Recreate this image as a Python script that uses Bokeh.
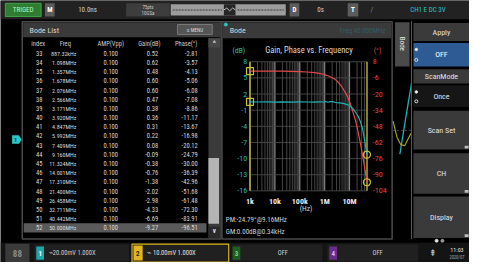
import math
from bokeh.plotting import figure
from bokeh.models import Range1d, LogScale, ColumnDataSource
from bokeh.core.properties import value
from bokeh.embed import file_html
from bokeh.resources import INLINE

# ---------------- data ----------------
row_index = list(range(33, 53))
row_freq_hz = [887.32e3, 1.098e6, 1.357e6, 1.678e6, 2.076e6, 2.566e6, 3.171e6, 3.920e6,
               4.847e6, 5.992e6, 7.409e6, 9.160e6, 11.324e6, 14.001e6, 17.310e6,
               21.400e6, 26.458e6, 32.711e6, 40.442e6, 50.000e6]
row_freq_label = ["887.32kHz", "1.098MHz", "1.357MHz", "1.678MHz", "2.076MHz", "2.566MHz",
                  "3.171MHz", "3.920MHz", "4.847MHz", "5.992MHz", "7.409MHz", "9.160MHz",
                  "11.324MHz", "14.001MHz", "17.310MHz", "21.400MHz", "26.458MHz",
                  "32.711MHz", "40.442MHz", "50.000MHz"]
row_amp = ["0.100"] * 20
row_gain = [0.52, 0.62, 0.48, 0.60, 0.60, 0.47, 0.38, 0.36, 0.31, 0.22, 0.08, -0.09,
            -0.38, -0.76, -1.38, -2.02, -2.98, -4.33, -6.69, -9.27]
row_phase = [-2.81, -3.57, -4.13, -5.06, -6.08, -7.08, -8.86, -11.17, -13.67, -16.98,
             -20.12, -24.79, -30.00, -36.39, -42.96, -51.68, -61.48, -72.30, -83.91, -96.51]

# low-frequency part of the curves
low_freq_hz = [1e3, 2e3, 5e3, 1e4, 2e4, 5e4, 1e5, 2e5, 4e5, 6e5]
low_gain = [0.55, 0.52, 0.56, 0.50, 0.54, 0.50, 0.55, 0.52, 0.50, 0.55]
low_phase = [-0.2, -0.1, 0.0, -0.2, -0.1, -0.3, -0.5, -0.9, -1.5, -2.1]

db_ticks = [8, 5, 2, -1, -4, -7, -10, -13, -16]
deg_ticks = [8, -6, -20, -34, -48, -62, -76, -90, -104]
freq_ticks = [1e3, 1e4, 1e5, 1e6, 1e7]
freq_tick_labels = ["1k", "10k", "100k", "1M", "10M"]
f_min, f_max = 1e3, 50e6

# ---------------- figure ----------------
W, H = 485, 278
p = figure(width=469, height=262, x_range=Range1d(0, W), y_range=Range1d(H, 0),
           output_backend="svg", toolbar_location=None, min_border=0,
           x_axis_location=None, y_axis_location=None,
           background_fill_color="#000000", border_fill_color="#000000",
           outline_line_color=None)
p.grid.visible = False

# plot-area geometry (screen layout)
PX_L, PX_R = 258.0, 379.0
PY_T, PY_B = 65.0, 202.0
la, lb = math.log10(f_min), math.log10(f_max)
sx = (lb - la) / (PX_R - PX_L)
p.extra_x_scales = {"freq": LogScale()}
p.extra_x_ranges = {"freq": Range1d(10 ** (la - PX_L * sx), 10 ** (la + (W - PX_L) * sx))}
d_top, d_bot = db_ticks[0], db_ticks[-1]
sdb = (d_top - d_bot) / (PY_B - PY_T)
g_top, g_bot = deg_ticks[0], deg_ticks[-1]
sdg = (g_top - g_bot) / (PY_B - PY_T)
p.extra_y_ranges = {
    "db": Range1d(d_top - (H - PY_T) * sdb, d_top + PY_T * sdb),
    "deg": Range1d(g_top - (H - PY_T) * sdg, g_top + PY_T * sdg),
}

FONT = value("Liberation Sans Narrow, Roboto Condensed, Liberation Sans")


def box(l, r, t, b, fill, line=None, lw=1.0, alpha=1.0):
    p.quad(left=[l], right=[r], top=[t], bottom=[b], fill_color=fill,
           fill_alpha=alpha, line_color=line, line_width=lw)


def txt(x, y, s, color, size=7, align="left", style="normal", angle=0.0, **kw):
    p.text(x=[x], y=[y], text=[s], text_color=color, text_font=FONT,
           text_font_size=f"{size}px", text_align=align, text_baseline="middle",
           text_font_style=style, angle=angle, **kw)


# ---------------- top bar ----------------
box(0, W, 0, 20, "#222222")
box(5, 42, 3, 17, "#2e7d32", "#43a047")
txt(23.5, 10.5, "TRIGED", "#b9f2b9", 7, "center")
box(46, 56, 3, 17, "#5c5c5c")
txt(51, 10.5, "M", "#ffffff", 7, "center", "bold")
txt(90, 10.5, "10.0ns", "#d0d0d0", 7, "center")
box(130, 175, 3, 17, "#3d3d3d")
txt(152.5, 7, "75pts", "#c8c8c8", 5, "center")
txt(152.5, 13.5, "10GSa", "#c8c8c8", 5, "center")
box(176, 295, 4, 16, "#9c9c9c")
box(231, 243, 4, 16, "#262626")
p.line(x=[178, 229], y=[10, 10], line_color="#6a6a6a", line_width=2, line_dash="2 1")
p.line(x=[245, 293], y=[10, 10], line_color="#6a6a6a", line_width=2, line_dash="2 1")
p.line(x=[231, 234, 237, 240, 243], y=[10, 8, 11, 8, 10], line_color="#bdbdbd", line_width=1)
box(299, 309, 3, 17, "#5c5c5c")
txt(304, 10.5, "D", "#ffffff", 7, "center", "bold")
txt(331, 10.5, "0s", "#d0d0d0", 7, "center")
box(359, 370, 3, 17, "#5c5c5c")
txt(364.5, 10.5, "T", "#ffffff", 7, "center", "bold")
txt(384, 10.5, "/", "#8a8a8a", 7, "center")
txt(442, 10.5, "CH1 E DC 3V", "#2cc6c6", 7, "center")

# ---------------- left marker ----------------
p.patch(x=[12, 19, 22, 19, 12], y=[143, 143, 147.5, 152, 152], fill_color="#2cc6c6",
        line_color=None)
txt(15.5, 147.5, "1", "#003a3a", 6, "center", "bold")

# ---------------- Bode List panel ----------------
box(22.5, 228, 22.5, 253, "#000000", "#4a4a4a", 1.5)
box(23.5, 227, 23.5, 39, "#3a3a3a")
txt(30, 31.5, "Bode List", "#d6d6d6", 8)
box(183, 219, 25.5, 36, "#555555", "#7a7a7a")
txt(201, 31, "≡ MENU", "#dddddd", 5, "center")

hy = 46
txt(39, hy, "index", "#c8c8c8", 6.5, "center")
txt(67, hy, "Freq", "#c8c8c8", 6.5, "center")
txt(114, hy, "AMP(Vpp)", "#c8c8c8", 6.5, "center")
txt(154, hy, "Gain(dB)", "#c8c8c8", 6.5, "center")
txt(192, hy, "Phase(°)", "#c8c8c8", 6.5, "center")

row_y = [56 + i * 9.75 for i in range(len(row_index))]
box(24, 213, row_y[-1] - 5, row_y[-1] + 5, "#5a5a5a")
tab = ColumnDataSource(dict(
    y=row_y,
    idx=[str(v) for v in row_index],
    freq=row_freq_label,
    amp=row_amp,
    gain=[f"{v:.2f}" for v in row_gain],
    phase=[f"{v:.2f}" for v in row_phase],
))
for col, xx, al, fs in [("idx", 40, "center", 6.5), ("freq", 78.5, "right", 6.0),
                        ("amp", 114, "center", 6.5), ("gain", 163, "right", 6.5),
                        ("phase", 204, "right", 6.5)]:
    p.text(x=xx, y="y", text=col, source=tab, text_color="#d8d8d8", text_font=FONT,
           text_font_size=f"{fs}px", text_align=al, text_baseline="middle")

# scrollbar
box(215, 227, 40, 252, "#3a3a3a")
box(215, 227, 40, 50, "#484848")
txt(221, 46, "^", "#e0e0e0", 8, "center", "bold")
box(215, 226, 167, 237, "#b4b4b4")
box(215, 227, 240, 252, "#2a2a2a")
txt(221, 245, "v", "#e0e0e0", 7, "center", "bold")

# ---------------- Bode panel ----------------
box(229, 405, 22.5, 253, "#000000", "#4a4a4a", 1.5)
box(230, 404, 23.5, 40, "#3a3a3a")
p.scatter(x=[233], y=[25.5], size=3, color="#2cc6c6")
txt(237, 32, "Bode", "#d6d6d6", 8)
txt(398, 32, "Freq 40.000MHz", "#2d5f63", 7, "right")

txt(240, 53, "(dB)", "#2cc6c6", 7.5, "left")
txt(319, 53, "Gain, Phase vs. Frequency", "#d8d8d8", 8.5, "center")
txt(386, 53, "(°)", "#e04848", 7.5, "left")

# grid: vertical log lines
minor = [k * 10 ** n for n in range(3, 8) for k in range(1, 10) if k * 10 ** n <= f_max]
p.segment(x0=minor, x1=minor, y0=[d_top] * len(minor), y1=[d_bot] * len(minor),
          x_range_name="freq", y_range_name="db", line_color="#666666", line_width=0.8,
          line_alpha=0.85)
p.segment(x0=freq_ticks, x1=freq_ticks, y0=[d_top] * 5, y1=[d_bot] * 5,
          x_range_name="freq", y_range_name="db", line_color="#959595", line_width=0.9)
# horizontal grid
p.segment(x0=[f_min] * len(db_ticks), x1=[f_max] * len(db_ticks), y0=db_ticks, y1=db_ticks,
          x_range_name="freq", y_range_name="db", line_color="#4a4a4a", line_width=0.9)

# axis tick labels
p.text(x=[255] * len(db_ticks), y=db_ticks, text=[str(v) for v in db_ticks],
       y_range_name="db", text_color="#2cb8bc", text_font=FONT, text_font_size="8px",
       text_align="right", text_baseline="middle")
p.text(x=[385] * len(deg_ticks), y=deg_ticks, text=[str(v) for v in deg_ticks],
       y_range_name="deg", text_color="#e04848", text_font=FONT, text_font_size="8px",
       text_align="left", text_baseline="middle")
p.text(x=freq_ticks, y=[213] * 5, text=freq_tick_labels, x_range_name="freq",
       text_color="#ececec", text_font=FONT, text_font_size="8px", text_align="center",
       text_baseline="middle", text_font_style="bold")
txt(316, 221, "(Hz)", "#d8d8d8", 7.5, "center")

# cursor lines
p.segment(x0=[f_min, f_max], x1=[f_min, f_max], y0=[d_top, d_top], y1=[d_bot, d_bot],
          x_range_name="freq", y_range_name="db", line_color="#c8c02a", line_width=1.2)

# curves
all_f = low_freq_hz + row_freq_hz
p.line(x=all_f, y=low_phase + row_phase, x_range_name="freq", y_range_name="deg",
       line_color="#e04a4a", line_width=1.2)
p.line(x=all_f, y=low_gain + row_gain, x_range_name="freq", y_range_name="db",
       line_color="#1fb0b4", line_width=1.2)

# cursor markers
p.scatter(x=[f_min], y=[low_gain[0]], x_range_name="freq", y_range_name="db", marker="square",
          size=7, fill_color=None, line_color="#c8c02a", line_width=1.2)
p.scatter(x=[f_min], y=[low_phase[0]], x_range_name="freq", y_range_name="deg",
          marker="square", size=7, fill_color=None, line_color="#c8c02a", line_width=1.2)
p.scatter(x=[f_max], y=[row_gain[-1]], x_range_name="freq", y_range_name="db",
          marker="circle", size=7, fill_color=None, line_color="#c8c02a", line_width=1.2)
p.scatter(x=[f_max], y=[row_phase[-1]], x_range_name="freq", y_range_name="deg",
          marker="circle", size=7, fill_color=None, line_color="#c8c02a", line_width=1.2)

pm_i = row_gain.index(-0.09)
txt(233, 233, f"PM:{row_phase[pm_i]:.2f}°@{row_freq_hz[pm_i] / 1e6:.2f}MHz", "#d0d0d0", 7)
txt(233, 246, "GM:0.00dB@0.34kHz", "#d0d0d0", 7)

# ---------------- background scope traces (right strip) ----------------
p.line(x=[406, 425], y=[138, 138], line_color="#555555", line_width=0.8, line_dash="2 2")
p.line(x=[413, 419, 425], y=[163, 125, 88], line_color="#1fb0b4", line_width=1.3)
p.line(x=[406, 410, 414, 418, 422, 425], y=[128, 145, 153, 154, 146, 140],
       line_color="#b0a82a", line_width=1.1)

# Bode side tab
box(408, 423, 23, 70, "#4a4a4a")
txt(415.5, 46, "Bode", "#e8e8e8", 7, "center", angle=-math.pi / 2)
p.line(x=[425, 425], y=[22, 253], line_color="#5a5a5a", line_width=1)

# ---------------- right menu ----------------
box(427, 485, 24, 43, "#3a3a3a")
txt(456, 33.5, "Apply", "#e0e0e0", 8, "center")
box(427, 485, 45, 70, "#2e5b93")
txt(456, 57.5, "OFF", "#ffffff", 8, "center")
p.scatter(x=[430, 430], y=[52, 63], size=[2.5, 3], marker="circle",
          fill_color=["#ffffff", None], line_color="#dddddd")
box(427, 485, 73, 88, "#3a3a3a")
txt(456, 80.5, "ScanMode", "#e0e0e0", 8, "center")
box(427, 485, 90, 113, "#161616")
txt(456, 101.5, "Once", "#e0e0e0", 8, "center")
p.scatter(x=[430, 430], y=[97, 107], size=[2.5, 3], marker="circle",
          fill_color=["#ffffff", None], line_color="#dddddd")
for t, b, lab in [(117, 158, "Scan Set"), (162, 205, "CH"), (208, 252, "Display")]:
    box(427, 485, t, b, "#3a3a3a")
    txt(456, (t + b) / 2, lab, "#e0e0e0", 8, "center")
    box(480, 484, b - 4, b - 1, "#bdbdbd")
p.scatter(x=[451, 457], y=[255, 255], size=3, color=["#e0e0e0", "#9a9a9a"])

# ---------------- bottom bar ----------------
box(0, W, 257, H, "#141414")
box(5, 30, 258, 278, "#3a3a3a")
txt(17.5, 268, "88", "#8a8a8a", 9, "center", "bold")
box(35, 133, 259, 277, "#202020")
box(37, 45, 261, 275, "#1fa6aa")
txt(41, 268, "1", "#ffffff", 7, "center", "bold")
txt(50, 268, "⌁20.00mV  1.000X", "#cfcfcf", 6.5, "left")
box(136, 236, 258.5, 277.5, "#202020", "#d8b21c", 1.2)
box(137.5, 147, 260, 276, "#e2b51d")
txt(142, 268, "2", "#202020", 7, "center", "bold")
txt(152, 268, "⌁ 10.00mV  1.000X", "#e0e0e0", 6.5, "left")
box(239, 333, 259, 277, "#202020")
box(240, 248, 261, 275, "#1e5e22")
txt(244, 268, "3", "#7fd07f", 7, "center", "bold")
txt(292, 268, "OFF", "#cfcfcf", 6.5, "center")
box(338, 432, 259, 277, "#202020")
box(340, 348, 261, 275, "#6a2c8a")
txt(344, 268, "4", "#d9b0ef", 7, "center", "bold")
txt(390, 268, "OFF", "#cfcfcf", 6.5, "center")
txt(447, 268, "⇞", "#d0d0d0", 9, "center")
txt(472, 264, "11:03", "#e0e0e0", 6, "center")
txt(472, 273, "2020/07", "#a0a0a0", 4.5, "center")

open("out.html", "w").write(file_html(p, INLINE))
